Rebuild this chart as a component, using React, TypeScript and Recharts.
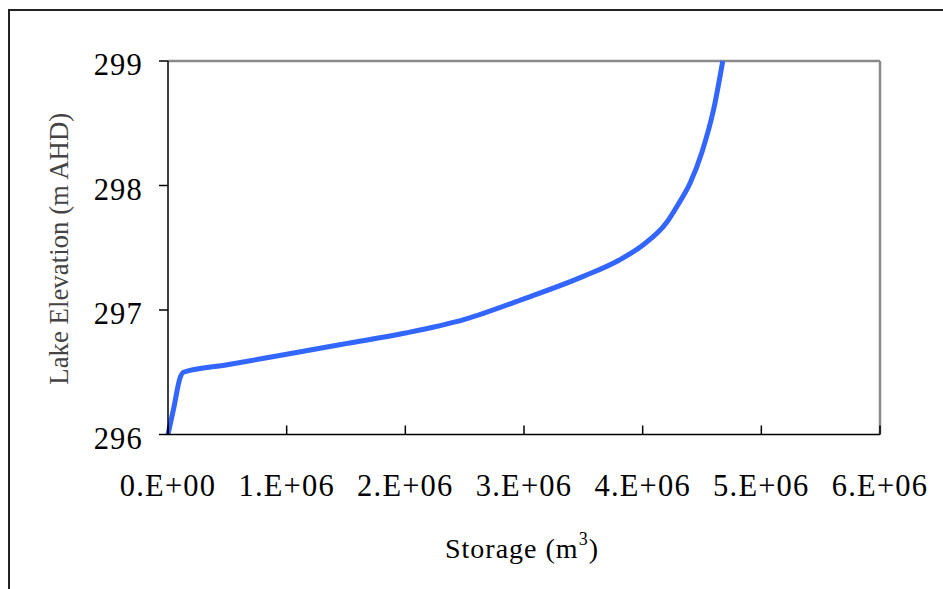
import React from 'react';
import { LineChart, Line, XAxis, YAxis, ReferenceLine, Label } from 'recharts';

// storage in m3, elevation in m AHD
const storage = [0, 50000, 100000, 130000, 500000, 1000000, 1500000, 2000000, 2500000, 3000000, 3500000, 3800000, 4000000, 4200000, 4300000, 4400000, 4500000, 4600000, 4675000];
const elevation = [296.0, 296.22, 296.45, 296.5, 296.56, 296.645, 296.73, 296.815, 296.925, 297.09, 297.27, 297.4, 297.52, 297.7, 297.85, 298.02, 298.27, 298.62, 299.0];

const xTicks = [0, 1000000, 2000000, 3000000, 4000000, 5000000, 6000000];
const xTickLabels = ['0.E+00', '1.E+06', '2.E+06', '3.E+06', '4.E+06', '5.E+06', '6.E+06'];
const yTicks = [296, 297, 298, 299];

const FONT = '"Liberation Serif", "Times New Roman", serif';

const chartData = storage.map((s, i) => ({ storage: s, elevation: elevation[i] }));

const XTick = ({ x, y, payload }: any) => {
  const idx = xTicks.indexOf(payload.value);
  return (
    <g>
      <line x1={x} x2={x} y1={y - 9} y2={y} stroke="#000" strokeWidth={1.5} />
      <text x={x} y={y + 61.5} textAnchor="middle" fontFamily={FONT} fontSize={30.5} letterSpacing={1.2} fill="#000">
        {idx >= 0 ? xTickLabels[idx] : ''}
      </text>
    </g>
  );
};

const YTick = ({ x, y, payload }: any) => (
  <text x={x - 16} y={y + 14} textAnchor="end" fontFamily={FONT} fontSize={30.5} letterSpacing={1.2} fill="#000">
    {payload.value}
  </text>
);

const YTitle = ({ viewBox }: any) => {
  const cx = viewBox.x + 50;
  const cy = viewBox.y + viewBox.height / 2 + 1;
  return (
    <text
      x={cx}
      y={cy}
      transform={`rotate(-90 ${cx} ${cy})`}
      textAnchor="middle"
      dominantBaseline="central"
      fontFamily={FONT}
      fontSize={28}
      textLength={272}
      lengthAdjust="spacingAndGlyphs"
      fill="#444"
    >
      Lake Elevation (m AHD)
    </text>
  );
};

const XTitle = ({ viewBox }: any) => (
  <text x={viewBox.x + viewBox.width / 2 - 2} y={viewBox.y + 123.5} textAnchor="middle" fontFamily={FONT} fontSize={28} letterSpacing={1} fill="#000">
    Storage (m
    <tspan fontSize={18} dy={-13}>3</tspan>
    <tspan dy={13}>)</tspan>
  </text>
);

export default function App() {
  return (
    <div style={{ position: 'absolute', left: 0, top: 0, width: 943, height: 589, overflow: 'hidden', background: '#fff' }}>
      <div style={{ position: 'absolute', left: 8, top: 9, width: 960, height: 620, border: '2px solid #222', boxSizing: 'border-box' }} />
      <div style={{ position: 'absolute', left: 0, top: 0 }}>
        <LineChart width={943} height={589} data={chartData} margin={{ top: 61, right: 63, left: 8, bottom: 0 }}>
          <XAxis
            type="number"
            dataKey="storage"
            domain={[0, 6000000]}
            ticks={xTicks}
            interval={0}
            height={154.5}
            tickSize={0}
            tickMargin={0}
            tickLine={false}
            axisLine={{ stroke: '#000', strokeWidth: 1.5 }}
            tick={<XTick />}
          >
            <Label content={<XTitle />} />
          </XAxis>
          <YAxis
            type="number"
            domain={[296, 299]}
            ticks={yTicks}
            interval={0}
            width={160}
            tickSize={9}
            tickMargin={0}
            tickLine={{ stroke: '#000', strokeWidth: 1.5 }}
            axisLine={{ stroke: '#000', strokeWidth: 1.5 }}
            tick={<YTick />}
          >
            <Label content={<YTitle />} />
          </YAxis>
          <ReferenceLine y={299} stroke="#8a8a8a" strokeWidth={2.5} />
          <ReferenceLine x={6000000} stroke="#8a8a8a" strokeWidth={2.5} />
          <Line
            type="monotone"
            dataKey="elevation"
            stroke="#3366ff"
            strokeWidth={5}
            dot={false}
            isAnimationActive={false}
          />
        </LineChart>
      </div>
    </div>
  );
}
